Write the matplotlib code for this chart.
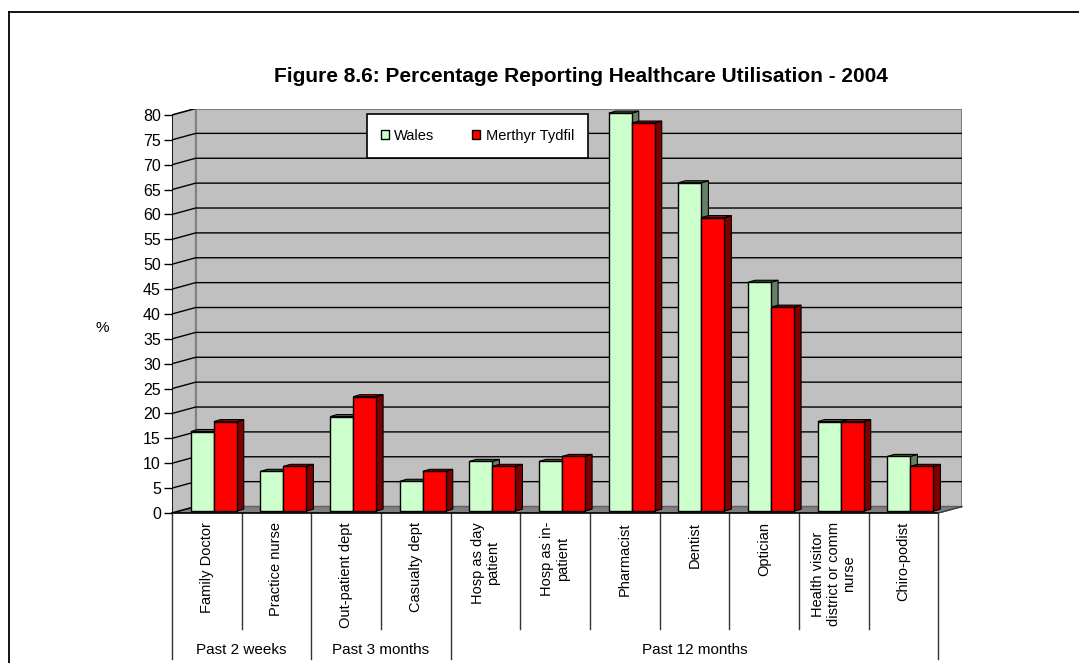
import matplotlib
matplotlib.use("Agg")
import matplotlib.pyplot as plt
from matplotlib.patches import Polygon, Patch
from matplotlib.lines import Line2D
import matplotlib.transforms as mtransforms

plt.rcParams['font.family'] = ['Liberation Sans', 'DejaVu Sans']

# ---- data ----
categories = ["Family Doctor", "Practice nurse", "Out-patient dept", "Casualty dept",
              "Hosp as day\npatient", "Hosp as in-\npatient", "Pharmacist", "Dentist",
              "Optician", "Health visitor\ndistrict or comm\nnurse", "Chiro-podist"]
wales = [16, 8, 19, 6, 10, 10, 80, 66, 46, 18, 11]
merthyr = [18, 9, 23, 8, 9, 11, 78, 59, 41, 18, 9]
groups = ["Past 2 weeks", "Past 3 months", "Past 12 months"]
group_sizes = [2, 2, 7]
series_names = ["Wales", "Merthyr Tydfil"]
yticks = list(range(0, 85, 5))
title = "Figure 8.6: Percentage Reporting Healthcare Utilisation - 2004"

# ---- style ----
W, H = 1079, 663
fig = plt.figure(figsize=(W / 100, H / 100), dpi=100)

DX, DY = 0.34, 1.3          # 3-D depth vector in data units
n = len(categories)
ymax = 80

left_px, right_px = 172, 962
bottom_px, top_px = 513, 108.5
ax = fig.add_axes([left_px / W, 1 - bottom_px / H, (right_px - left_px) / W, (bottom_px - top_px) / H])
ax.set_xlim(0, n + DX)
ax.set_ylim(0, ymax + DY)
for s in ax.spines.values():
    s.set_visible(False)
ax.set_xticks([])
ax.set_yticks(yticks)
ax.set_yticklabels([str(v) for v in yticks], fontsize=11.5)
ax.tick_params(axis='y', length=6, width=1, pad=2, color='black')
ax.patch.set_visible(False)

wall_c = '#C0C0C0'
edge_gray = '#808080'
# back wall
ax.add_patch(Polygon([(DX, DY), (n + DX, DY), (n + DX, ymax + DY), (DX, ymax + DY)],
                     closed=True, facecolor=wall_c, edgecolor=edge_gray, lw=1.5, zorder=0))
# side wall
ax.add_patch(Polygon([(0, 0), (DX, DY), (DX, ymax + DY), (0, ymax)],
                     closed=True, facecolor=wall_c, edgecolor=edge_gray, lw=1.2, zorder=0))
# floor
ax.add_patch(Polygon([(0, 0), (n, 0), (n + DX, DY), (DX, DY)],
                     closed=True, facecolor='#808080', edgecolor='#606060', lw=1, zorder=0.5))
# gridlines
for v in yticks[1:-1]:
    ax.plot([0, DX, n + DX], [v, v + DY, v + DY], color='black', lw=1, zorder=1)
ax.plot([0, DX], [ymax, ymax + DY], color='black', lw=1, zorder=1)
ax.plot([0, DX], [0, DY], color='black', lw=1, zorder=1)
# front axis lines
ax.plot([0, 0], [0, ymax], color='black', lw=1.2, zorder=1)

# bars
bw = 0.33
x_off = 0.27
y0 = 0.38
bdx, bdy = 0.10, 0.40
series = [(wales, '#CCFFCC', '#668066', '#4D664D'),
          (merthyr, '#FF0000', '#800000', '#B00000')]
for i in range(n):
    for k, (vals, fc, sc, tc) in enumerate(series):
        x0 = i + x_off + k * bw
        x1 = x0 + bw
        top = vals[i] + y0
        z = 2 + k * 0.1 + i * 0.01
        # side face
        ax.add_patch(Polygon([(x1, y0), (x1 + bdx, y0 + bdy), (x1 + bdx, top + bdy), (x1, top)],
                             closed=True, facecolor=sc, edgecolor='black', lw=0.8, zorder=z))
        # top face
        ax.add_patch(Polygon([(x0, top), (x0 + bdx, top + bdy), (x1 + bdx, top + bdy), (x1, top)],
                             closed=True, facecolor=tc, edgecolor='black', lw=0.8, zorder=z))
        # front face
        ax.bar(x0, vals[i], width=bw, bottom=y0, align='edge', color=fc,
               edgecolor='black', lw=1, zorder=z + 0.001)

ax.plot([0, n], [0, 0], color='black', lw=1.2, zorder=5, clip_on=False)
ax.plot([n, n + DX], [0, DY], color='#404040', lw=1, zorder=5, clip_on=False)

# category label table
tr = mtransforms.blended_transform_factory(ax.transData, fig.transFigure)
y_axis_f = 1 - 513 / H
y_inner_f = 1 - 629 / H
y_outer_f = 1 - 659 / H
bounds = [0]
for g in group_sizes:
    bounds.append(bounds[-1] + g)
for i in range(n + 1):
    yb = y_outer_f if i in bounds else y_inner_f
    ax.plot([i, i], [y_axis_f, yb], color='#333333', lw=1, transform=tr, clip_on=False)
for i, lab in enumerate(categories):
    ax.text(i + 0.5, 1 - 522 / H, lab, rotation=90, ha='center', va='top',
            multialignment='center', fontsize=10.5, transform=tr, linespacing=1.15)
for gi, g in enumerate(groups):
    xc = (bounds[gi] + bounds[gi + 1]) / 2
    ax.text(xc, 1 - 650 / H, g, ha='center', va='center', fontsize=11, transform=tr)

# y label
fig.text(102 / W, 1 - 328 / H, "%", ha='center', va='center', fontsize=11)

# title
fig.text(581 / W, 1 - 77 / H, title, ha='center', va='center', fontsize=15, fontweight='bold')

# legend
handles = [Patch(facecolor='#CCFFCC', edgecolor='black', lw=1),
           Patch(facecolor='#FF0000', edgecolor='black', lw=1)]
leg = fig.legend(handles, series_names, loc='center', ncol=2,
                 bbox_to_anchor=(477.5 / W, 1 - 136 / H), fontsize=10.5,
                 handlelength=0.55, handleheight=0.55, handletextpad=0.35,
                 columnspacing=2.6, borderpad=1.0, fancybox=False, frameon=True,
                 edgecolor='black', framealpha=1)
leg.get_frame().set_linewidth(1.2)

# outer border
fig.add_artist(Line2D([9 / W, 9 / W], [0, 1 - 12 / H], color='black', lw=1.3, transform=fig.transFigure))
fig.add_artist(Line2D([9 / W, 1], [1 - 12 / H, 1 - 12 / H], color='black', lw=1.3, transform=fig.transFigure))

fig.savefig("out.png", dpi=100)
